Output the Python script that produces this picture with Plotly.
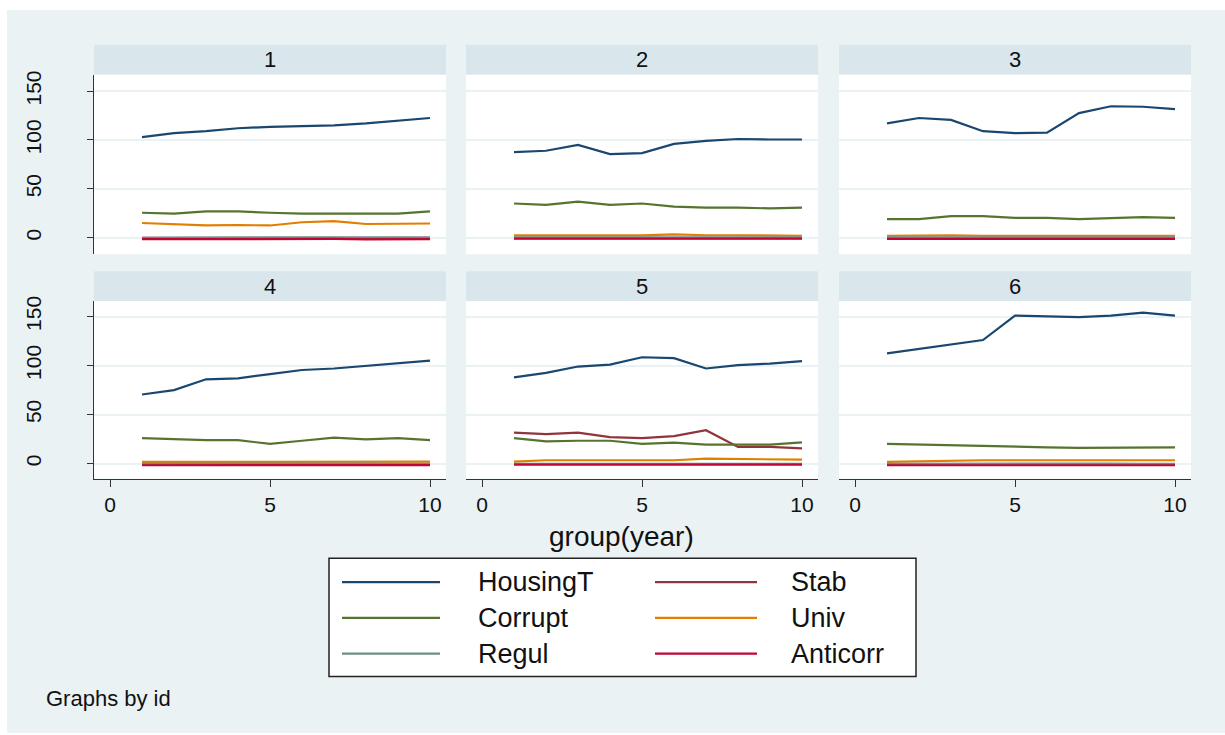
import plotly.graph_objects as go

# ---------------- data ----------------
years = [1, 2, 3, 4, 5, 6, 7, 8, 9, 10]
panel_ids = ["1", "2", "3", "4", "5", "6"]
series_names = ["HousingT", "Stab", "Corrupt", "Univ", "Regul", "Anticorr"]

housingT = [
    [103, 107, 109, 112, 113.5, 114.5, 115, 117, 120, 122.5],
    [87.5, 89, 95, 85.5, 86.5, 96, 99, 101, 100.5, 100.5],
    [117, 122.5, 120.5, 109, 107, 107.5, 127.5, 134.5, 134, 131.5],
    [70.5, 75, 86, 87, 91.3, 95.5, 97, 99.5, 102, 105],
    [88, 92.5, 99, 101, 108.5, 107.5, 97, 100.5, 102, 104.5],
    [112.5, 117, 121.5, 126, 151, 150.5, 149.5, 151, 154, 151],
]
stab = [
    [-0.5, -0.3, -0.6, -0.5, -0.4, -0.5, -0.6, -0.5, -0.4, -0.5],
    [-0.6, -0.5, -0.5, -0.6, -0.5, -0.5, -0.6, -0.5, -0.5, -0.6],
    [-0.5, -0.6, -0.5, -0.5, -0.6, -0.5, -0.5, -0.6, -0.5, -0.5],
    [-0.8, -0.7, -0.8, -0.8, -0.7, -0.8, -0.8, -0.7, -0.8, -0.8],
    [31.5, 30, 31.5, 27, 26, 28, 34, 17, 17, 15.5],
    [-0.7, -0.8, -0.7, -0.7, -0.8, -0.7, -0.7, -0.8, -0.7, -0.7],
]
corrupt = [
    [25.5, 24.7, 27, 27, 25.5, 24.7, 24.7, 24.7, 24.7, 27],
    [35, 33.5, 37, 33.5, 35, 31.8, 30.8, 30.8, 30, 30.8],
    [19, 19, 22, 22, 20.3, 20.3, 19, 20.3, 21, 20.3],
    [26, 24.7, 24, 24, 20, 23.3, 26.4, 24.7, 26, 24],
    [26, 22.7, 23.3, 23.3, 20, 21.3, 19.3, 19.3, 19.3, 21.7],
    [20, 19.3, 18, 18, 16.6, 16.6, 16, 16, 16, 16.6],
]
univ = [
    [15, 13.5, 12.5, 13, 12.5, 15.8, 17, 14, 14.5, 14.5],
    [2.3, 2.3, 2.3, 2.3, 2.3, 3.3, 2.5, 2.5, 2, 2],
    [2, 2.5, 2.5, 2, 2, 2, 2, 2, 2, 2],
    [1.7, 1.7, 1.9, 1.9, 1.9, 1.9, 1.9, 1.9, 1.9, 1.9],
    [2, 3.4, 3.4, 3.4, 3.4, 3.4, 5, 4.7, 3.7, 4],
    [1.7, 2.3, 3, 3.4, 3.4, 3.4, 3.4, 3.4, 3.4, 3.4],
]
regul = [
    [0.2, 0.3, 0.2, 0.3, 0.2, 0.3, 0.2, 0.3, 0.2, 0.3],
    [0.3, 0.2, 0.3, 0.3, 0.2, 0.3, 0.3, 0.2, 0.3, 0.3],
    [0.3, 0.3, 0.2, 0.3, 0.3, 0.2, 0.3, 0.3, 0.2, 0.3],
    [-0.2, -0.1, -0.2, -0.2, -0.1, -0.2, -0.2, -0.1, -0.2, -0.2],
    [-0.3, -0.3, -0.3, -0.3, -0.3, -0.3, -0.3, -0.3, -0.3, -0.3],
    [-0.2, -0.1, -0.2, -0.2, -0.1, -0.2, -0.2, -0.1, -0.2, -0.2],
]
anticorr = [
    [-1.5, -1.5, -1.0, -1.0, -1.0, -1.0, -1.3, -1.8, -1.5, -1.5],
    [-1.0, -1.0, -1.0, -1.0, -1.0, -1.0, -1.0, -1.0, -1.0, -1.0],
    [-1.2, -1.2, -1.2, -1.2, -1.2, -1.2, -1.2, -1.2, -1.2, -1.2],
    [-1.7, -1.7, -1.5, -1.5, -1.5, -1.5, -1.9, -1.6, -1.6, -1.6],
    [-1.0, -1.0, -1.0, -1.0, -1.0, -1.0, -1.0, -1.0, -1.0, -1.0],
    [-1.7, -1.7, -1.7, -1.7, -1.7, -1.7, -1.7, -1.7, -1.7, -1.7],
]
x_ticks = [0, 5, 10]
y_ticks = [0, 50, 100, 150]

series_values = [housingT, stab, corrupt, univ, regul, anticorr]
colors = ["#1a476f", "#90353b", "#55752f", "#e37e00", "#6e8e84", "#c10534"]

# ---------------- layout geometry (pixels) ----------------
W, H = 1225, 735
FONT = "Liberation Sans, Arial, Helvetica, sans-serif"
BG = "#eaf2f3"
STRIP = "#d9e6eb"
TXT = "#111111"

col_px = [(94, 446), (466, 818), (839, 1191)]
row_px = [((40, 70), (70, 251)), ((268, 298), (298, 477))]
yranges = [[-17.0, 167.0], [-15.5, 165.9]]


def fx(px):
    return px / W


def fy(py):
    return 1 - py / H


fig = go.Figure()
layout = dict(
    width=W, height=H,
    margin=dict(l=0, r=0, t=0, b=0),
    paper_bgcolor="white", plot_bgcolor="white",
    showlegend=False,
    font=dict(family=FONT, color=TXT),
)
shapes = []
annotations = []

# outer background region
shapes.append(dict(type="rect", xref="paper", yref="paper", x0=fx(7), x1=fx(1225),
                   y0=fy(733), y1=fy(5), fillcolor=BG, line=dict(width=0), layer="below"))

for p in range(6):
    r, c = divmod(p, 3)
    k = p + 1
    xa = "xaxis" if k == 1 else f"xaxis{k}"
    ya = "yaxis" if k == 1 else f"yaxis{k}"
    xr = "x" if k == 1 else f"x{k}"
    yr = "y" if k == 1 else f"y{k}"
    (sx0, sx1) = col_px[c]
    (st0, st1), (pt0, pt1) = row_px[r]
    bottom = r == 1
    left = c == 0
    layout[xa] = dict(
        domain=[fx(sx0), fx(sx1)], anchor=yr, range=[-0.5, 10.5],
        tickvals=x_ticks if bottom else [], showticklabels=bottom,
        ticks="outside" if bottom else "", ticklen=7, tickwidth=1.3, tickcolor="#333",
        showline=bottom, linecolor="#333", linewidth=1.3,
        showgrid=False, zeroline=False,
        tickfont=dict(size=21, family=FONT, color=TXT),
    )
    layout[ya] = dict(
        domain=[fy(pt1), fy(pt0)], anchor=xr, range=yranges[r],
        tickvals=y_ticks, showticklabels=left,
        ticks="outside" if left else "", ticklen=6, tickwidth=1.3, tickcolor="#333",
        showline=left, linecolor="#333", linewidth=1.3,
        showgrid=True, gridcolor=BG, gridwidth=2, zeroline=False,
        tickangle=-90, ticklabelstandoff=37,
        tickfont=dict(size=21, family=FONT, color=TXT),
    )
    # white plot area background over outer bg
    shapes.append(dict(type="rect", xref="paper", yref="paper", x0=fx(sx0), x1=fx(sx1),
                       y0=fy(pt1), y1=fy(pt0), fillcolor="white", line=dict(width=0), layer="below"))
    # strip
    shapes.append(dict(type="rect", xref="paper", yref="paper", x0=fx(sx0), x1=fx(sx1),
                       y0=fy(st1), y1=fy(st0), fillcolor=STRIP, line=dict(width=0), layer="below"))
    annotations.append(dict(xref="paper", yref="paper", x=fx((sx0 + sx1) / 2), y=fy((st0 + st1) / 2),
                            text=panel_ids[p], showarrow=False, xanchor="center", yanchor="middle",
                            font=dict(size=22, family=FONT, color=TXT)))
    for s in range(6):
        fig.add_trace(go.Scatter(
            x=years, y=series_values[s][p], mode="lines", name=series_names[s],
            line=dict(color=colors[s], width=2.2), xaxis=xr, yaxis=yr,
        ))

# x-axis title
annotations.append(dict(xref="paper", yref="paper", x=fx(621), y=fy(535), text="group(year)",
                        showarrow=False, xanchor="center", yanchor="middle",
                        font=dict(size=28, family=FONT, color=TXT)))
# note
annotations.append(dict(xref="paper", yref="paper", x=fx(44), y=fy(698), text="Graphs by id",
                        showarrow=False, xanchor="left", yanchor="middle",
                        font=dict(size=22, family=FONT, color=TXT)))

# legend box (manual, two columns)
shapes.append(dict(type="rect", xref="paper", yref="paper", x0=fx(329), x1=fx(916),
                   y0=fy(676), y1=fy(557), fillcolor="white", line=dict(color="#222", width=1.5)))
leg_rows = [581, 617, 653]
leg_cols = [(342, 440, 476), (655, 757, 789)]
for i, name in enumerate(series_names):
    rr, cc = divmod(i, 2)
    lx0, lx1, tx = leg_cols[cc]
    ly = leg_rows[rr]
    shapes.append(dict(type="line", xref="paper", yref="paper", x0=fx(lx0), x1=fx(lx1),
                       y0=fy(ly), y1=fy(ly), line=dict(color=colors[i], width=2.2)))
    annotations.append(dict(xref="paper", yref="paper", x=fx(tx), y=fy(ly), text=name,
                            showarrow=False, xanchor="left", yanchor="middle",
                            font=dict(size=27, family=FONT, color=TXT)))

layout["shapes"] = shapes
layout["annotations"] = annotations
fig.update_layout(**layout)
fig.write_html("out.html")
